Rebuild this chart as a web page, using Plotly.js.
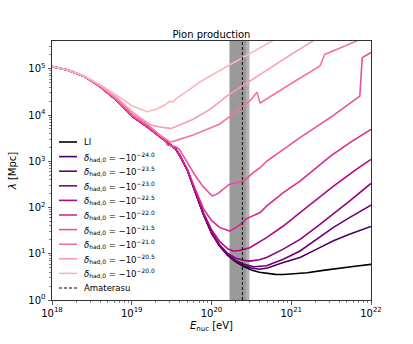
<!DOCTYPE html>
<html><head><meta charset="utf-8">
<script src="https://cdn.plot.ly/plotly-3.0.1.min.js"></script>
<style>html,body{margin:0;padding:0;background:#fff;} #chart{width:413px;height:344px;}</style>
</head><body><div id="chart"></div>
<script>
// ---- data: log10(E_nuc / eV) and log10(lambda / Mpc) ----
const E_LI = [18.0,18.2,18.4,18.6,18.8,19.0,19.2,19.4,19.5,19.55,19.6,19.7,19.8,19.9,20.0,20.1,20.2,20.3,20.4,20.5,20.6,20.7,20.8,20.9,21.0,21.2,21.4,21.6,21.8,22.0];
const L_LI = [5.05,4.97,4.84,4.62,4.33,3.98,3.74,3.47,3.33,3.27,3.13,2.80,2.32,1.85,1.45,1.17,0.97,0.83,0.73,0.65,0.60,0.57,0.555,0.55,0.56,0.59,0.64,0.69,0.73,0.77];

const E_m240 = [18.0,18.2,18.4,18.6,18.8,19.0,19.2,19.4,19.5,19.55,19.6,19.7,19.8,19.9,20.0,20.1,20.2,20.3,20.4,20.5,20.6,20.7,20.9,21.11,21.32,21.53,21.73,22.0];
const L_m240 = [5.05,4.97,4.84,4.62,4.33,3.98,3.74,3.47,3.33,3.27,3.13,2.80,2.32,1.85,1.45,1.17,0.98,0.84,0.75,0.69,0.665,0.69,0.81,0.92,1.10,1.28,1.42,1.59];

const E_m235 = [18.0,18.2,18.4,18.6,18.8,19.0,19.2,19.4,19.5,19.55,19.6,19.7,19.8,19.9,20.0,20.1,20.2,20.3,20.4,20.53,20.69,20.9,21.11,21.32,21.53,21.73,22.0];
const L_m235 = [5.05,4.97,4.84,4.62,4.33,3.98,3.74,3.47,3.33,3.27,3.13,2.80,2.32,1.85,1.45,1.18,0.99,0.86,0.78,0.72,0.74,0.88,1.06,1.31,1.57,1.78,2.05];

const E_m230 = [18.0,18.2,18.4,18.6,18.8,19.0,19.2,19.4,19.5,19.55,19.6,19.7,19.8,19.9,20.0,20.1,20.2,20.3,20.4,20.48,20.6,20.69,20.9,21.11,21.32,21.53,21.73,22.0];
const L_m230 = [5.05,4.97,4.84,4.62,4.33,3.98,3.74,3.47,3.33,3.27,3.13,2.80,2.32,1.86,1.47,1.20,1.01,0.91,0.86,0.84,0.87,0.92,1.10,1.31,1.58,1.86,2.14,2.52];

const E_m225 = [18.0,18.2,18.4,18.6,18.8,19.0,19.2,19.4,19.5,19.55,19.6,19.7,19.8,19.9,20.0,20.1,20.2,20.27,20.35,20.48,20.69,20.9,21.11,21.32,21.53,21.82,22.0];
const L_m225 = [5.05,4.97,4.84,4.62,4.33,3.98,3.74,3.47,3.33,3.27,3.13,2.80,2.33,1.88,1.52,1.27,1.11,1.06,1.07,1.13,1.35,1.60,1.89,2.18,2.46,2.83,3.04];

const E_m220 = [18.0,18.2,18.4,18.6,18.8,19.0,19.2,19.4,19.5,19.55,19.6,19.7,19.8,19.9,20.0,20.1,20.23,20.36,20.44,20.52,20.61,20.69,20.9,21.11,21.3,21.5,21.75,22.0];
const L_m220 = [5.05,4.97,4.84,4.62,4.33,3.98,3.74,3.47,3.33,3.27,3.14,2.82,2.38,1.97,1.72,1.57,1.49,1.63,1.76,1.82,1.89,2.03,2.32,2.57,2.83,3.12,3.42,3.69];

const E_m215 = [18.0,18.2,18.4,18.6,18.8,19.0,19.2,19.4,19.45,19.56,19.6,19.72,19.8,19.89,20.01,20.08,20.14,20.22,20.4,20.52,20.61,20.69,21.11,21.52,21.86,21.89,22.0];
const L_m215 = [5.05,4.97,4.84,4.62,4.33,3.99,3.76,3.49,3.35,3.31,3.25,2.90,2.68,2.46,2.25,2.30,2.39,2.50,2.57,2.75,2.86,3.00,3.51,3.98,4.41,5.24,5.35];

const E_m210 = [18.0,18.2,18.4,18.6,18.8,19.0,19.2,19.35,19.48,19.52,19.77,20.1,20.27,20.48,20.57,20.61,21.0,21.36,21.42,21.82,22.0];
const L_m210 = [5.05,4.97,4.84,4.63,4.36,4.04,3.79,3.57,3.42,3.43,3.57,3.80,4.02,4.30,4.49,4.26,4.68,5.06,5.31,5.60,5.73];

const E_m205 = [18.0,18.2,18.4,18.6,18.8,19.0,19.23,19.35,19.48,19.51,19.77,19.98,20.2,20.5,20.8,21.0,21.3];
const L_m205 = [5.05,4.97,4.84,4.64,4.40,4.08,3.79,3.74,3.71,3.72,3.91,4.12,4.42,4.76,5.10,5.31,5.63];

const E_m200 = [18.0,18.2,18.4,18.6,18.8,19.0,19.19,19.3,19.42,19.48,19.52,19.56,19.7,19.86,20.0,20.25,20.5,20.8];
const L_m200 = [5.05,4.97,4.85,4.66,4.44,4.20,4.07,4.12,4.22,4.30,4.28,4.36,4.52,4.72,4.86,5.10,5.34,5.64];

const seriesNames = ['LI','−24.0','−23.5','−23.0','−22.5','−22.0','−21.5','−21.0','−20.5','−20.0'];
const seriesE = [E_LI,E_m240,E_m235,E_m230,E_m225,E_m220,E_m215,E_m210,E_m205,E_m200];
const seriesL = [L_LI,L_m240,L_m235,L_m230,L_m225,L_m220,L_m215,L_m210,L_m205,L_m200];
const seriesColors = ['#000000','#49006a','#6b0173','#8f017a','#b30681','#d42a92','#ea4e9c','#f873a5','#fa9ab3','#fbb6bc'];

// Amaterasu event energy and its uncertainty band [eV]
const amaterasuE = 2.44e20;
const bandDark = [1.68e20, 2.77e20];
const bandLight = [2.77e20, 2.99e20];

// ---- figure ----
const W = 413, H = 344;
const M = {l:52, r:42, t:41, b:44};
const PW = W - M.l - M.r, PH = H - M.t - M.b;
const px2x = p => (p - M.l) / PW;
const px2y = p => (H - M.b - p) / PH;

const traces = seriesNames.map((n, i) => ({
  type: 'scatter', mode: 'lines',
  x: seriesE[i].map(v => Math.pow(10, v)),
  y: seriesL[i].map(v => Math.pow(10, v)),
  name: n,
  line: {color: seriesColors[i], width: 1.6},
  showlegend: false, hoverinfo: 'skip'
}));

const shapes = [
  {type:'rect', xref:'x', yref:'paper', x0:bandDark[0], x1:bandDark[1], y0:0, y1:1, fillcolor:'#9a9a9a', line:{width:0}, layer:'below'},
  {type:'rect', xref:'x', yref:'paper', x0:bandLight[0], x1:bandLight[1], y0:0, y1:1, fillcolor:'#b2b2b2', line:{width:0}, layer:'below'},
  {type:'line', xref:'x', yref:'paper', x0:amaterasuE, x1:amaterasuE, y0:0, y1:1, line:{color:'#000', width:1, dash:'3px,2px'}}
];

// manual matplotlib-style legend
const annotations = [];
const legendLabels = ['LI'].concat(seriesNames.slice(1).map(s => '<i>δ</i><sub>had,0</sub> = −10<sup>' + s + '</sup>')).concat(['Amaterasu']);
const legendColors = seriesColors.concat(['#000000']);
const legY0 = 142, legDY = 14.6;
legendLabels.forEach((t, i) => {
  const yy = legY0 + i * legDY;
  const last = i === legendLabels.length - 1;
  shapes.push({type:'line', xref:'paper', yref:'paper', x0:px2x(59), x1:px2x(77), y0:px2y(yy), y1:px2y(yy),
    line:{color: legendColors[i], width: last ? 1 : 1.6, dash: last ? '3px,2px' : 'solid'}});
  annotations.push({xref:'paper', yref:'paper', x:px2x(82), y:px2y(yy), xanchor:'left', yanchor:'middle',
    text: t, showarrow:false, font:{size:8.5, color:'#000', family:'DejaVu Sans'}});
});

const minorX = [], minorY = [];
for (let d = 18; d < 22; d++) for (let k = 2; k <= 9; k++) minorX.push(k * Math.pow(10, d));
for (let d = 0; d < 6; d++) for (let k = 2; k <= 9; k++) minorY.push(k * Math.pow(10, d));

const axCommon = {
  type:'log', showgrid:false, zeroline:false, showline:true, mirror:true,
  linecolor:'#333', linewidth:1, ticks:'outside', ticklen:3.5, tickwidth:0.8, tickcolor:'#333',
  tickfont:{size:10, color:'#000', family:'DejaVu Sans'},
};

const layout = {
  width:W, height:H, margin:M, paper_bgcolor:'#fff', plot_bgcolor:'#fff',
  font:{family:'DejaVu Sans', color:'#000'},
  title:{text:'Pion production', font:{size:10, color:'#000'}, xref:'paper', x:0.5, xanchor:'center', yref:'paper', y:1, yanchor:'bottom', pad:{b:3}},
  xaxis: Object.assign({}, axCommon, {
    range:[18, 22],
    tickvals:[1e18,1e19,1e20,1e21,1e22],
    ticktext:['10<sup>18</sup>','10<sup>19</sup>','10<sup>20</sup>','10<sup>21</sup>','10<sup>22</sup>'],
    minor:{tickvals:minorX, ticks:'outside', ticklen:2, tickwidth:0.6, tickcolor:'#333', showgrid:false},
    title:{text:'<i>E</i><sub>nuc</sub> [eV]', font:{size:10, color:'#000'}, standoff:4}
  }),
  yaxis: Object.assign({}, axCommon, {
    range:[0, 5.6],
    tickvals:[1,10,100,1000,1e4,1e5],
    ticktext:['10<sup>0</sup>','10<sup>1</sup>','10<sup>2</sup>','10<sup>3</sup>','10<sup>4</sup>','10<sup>5</sup>'],
    minor:{tickvals:minorY, ticks:'outside', ticklen:2, tickwidth:0.6, tickcolor:'#333', showgrid:false},
    title:{text:'<i>λ</i> [Mpc]', font:{size:10, color:'#000'}, standoff:9}
  }),
  shapes: shapes,
  annotations: annotations,
  showlegend:false
};

Plotly.newPlot('chart', traces, layout, {staticPlot:true, displayModeBar:false});
</script>
</body></html>
